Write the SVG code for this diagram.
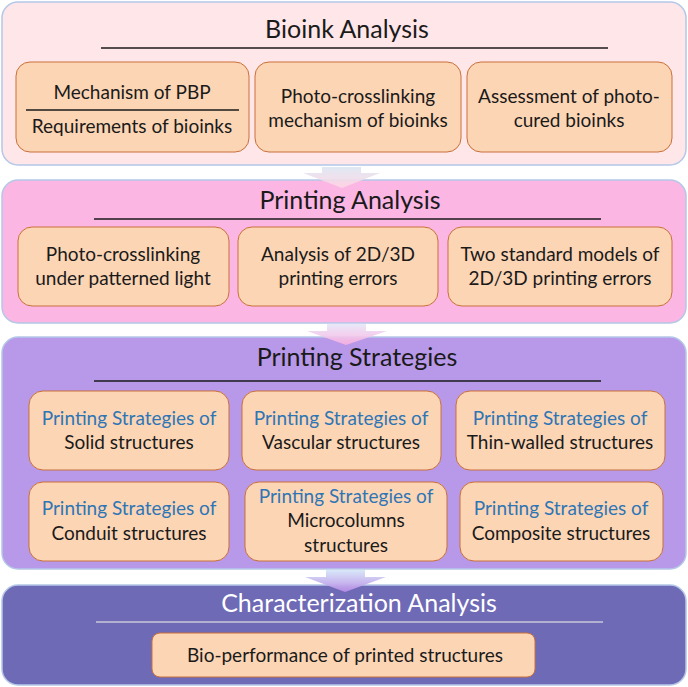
<svg xmlns="http://www.w3.org/2000/svg" width="688" height="687" viewBox="0 0 688 687">
<defs>
<style>
.panel{stroke:#B4C7E7;stroke-width:1.5}
.box{fill:#FCD5B5;stroke:#C9703A;stroke-width:1}
.t{font-family:Lato,"Liberation Sans",sans-serif;font-size:19px;fill:#1a1a1a;text-anchor:middle}
.b{fill:#2E75B6}
.h{font-family:Lato,"Liberation Sans",sans-serif;font-size:25px;fill:#1a1a1a;text-anchor:middle}
.rule{stroke:#1a1a1a;stroke-width:1.5}
</style>
<linearGradient id="g1" x1="0" y1="0" x2="0" y2="1">
<stop offset="0" stop-color="#DCE6F2"/><stop offset="1" stop-color="#FFD6E4"/>
</linearGradient>
<linearGradient id="g2" x1="0" y1="0" x2="0" y2="1">
<stop offset="0" stop-color="#E6E6F8"/><stop offset="1" stop-color="#FBB0E0"/>
</linearGradient>
<linearGradient id="g3" x1="0" y1="0" x2="0" y2="1">
<stop offset="0" stop-color="#D6E6F8"/><stop offset="1" stop-color="#B88CE6"/>
</linearGradient>
</defs>

<g id="panel-bioink">
<rect class="panel" x="2" y="2" width="684" height="163" rx="16" fill="#FFE6E8"/>
<text class="h" x="347" y="38">Bioink Analysis</text>
<line class="rule" x1="101" y1="48" x2="608" y2="48"/>
</g>
<g id="node-pbp">
<rect class="box" x="16" y="62" width="233" height="90" rx="14"/>
<text class="t" x="132" y="99">Mechanism of PBP</text>
<line class="rule" x1="26" y1="110" x2="239" y2="110" stroke-width="1.2"/>
<text class="t" x="132" y="133">Requirements of bioinks</text>
</g>
<g id="node-photo-mech">
<rect class="box" x="255" y="62" width="206" height="90" rx="14"/>
<text class="t" x="358" y="103">Photo-crosslinking</text>
<text class="t" x="358" y="127">mechanism of bioinks</text>
</g>
<g id="node-assess">
<rect class="box" x="467" y="62" width="205" height="90" rx="14"/>
<text class="t" x="569" y="103">Assessment of photo-</text>
<text class="t" x="569" y="127">cured bioinks</text>
</g>

<g id="panel-printing-analysis">
<rect class="panel" x="2" y="180" width="684" height="143" rx="16" fill="#FBB6E4" stroke="#BDD7EE"/>
<text class="h" x="350" y="209">Printing Analysis</text>
<line class="rule" x1="94" y1="219" x2="601" y2="219"/>
</g>
<g id="node-patterned">
<rect class="box" x="18" y="227" width="211" height="79" rx="14"/>
<text class="t" x="123" y="261">Photo-crosslinking</text>
<text class="t" x="123" y="285">under patterned light</text>
</g>
<g id="node-errors">
<rect class="box" x="238" y="227" width="200" height="79" rx="14"/>
<text class="t" x="338" y="261">Analysis of 2D/3D</text>
<text class="t" x="338" y="285">printing errors</text>
</g>
<g id="node-models">
<rect class="box" x="448" y="227" width="224" height="79" rx="14"/>
<text class="t" x="560" y="261">Two standard models of</text>
<text class="t" x="560" y="285">2D/3D printing errors</text>
</g>

<g id="panel-strategies">
<rect class="panel" x="2" y="337" width="684" height="232" rx="16" fill="#B898E8" stroke="#BDD7EE"/>
<text class="h" x="357" y="366">Printing Strategies</text>
<line class="rule" x1="94" y1="381" x2="601" y2="381" stroke="#2a2040"/>
</g>
<g id="node-solid">
<rect class="box" x="29" y="391" width="200" height="79" rx="14"/>
<text class="t b" x="129" y="425">Printing Strategies of</text>
<text class="t" x="129" y="449">Solid structures</text>
</g>
<g id="node-vascular">
<rect class="box" x="242" y="391" width="199" height="79" rx="14"/>
<text class="t b" x="341" y="425">Printing Strategies of</text>
<text class="t" x="341" y="449">Vascular structures</text>
</g>
<g id="node-thin">
<rect class="box" x="456" y="391" width="209" height="79" rx="14"/>
<text class="t b" x="560" y="425">Printing Strategies of</text>
<text class="t" x="560" y="449">Thin-walled structures</text>
</g>
<g id="node-conduit">
<rect class="box" x="29" y="482" width="200" height="79" rx="14"/>
<text class="t b" x="129" y="515">Printing Strategies of</text>
<text class="t" x="129" y="540">Conduit structures</text>
</g>
<g id="node-micro">
<rect class="box" x="245" y="482" width="202" height="79" rx="14"/>
<text class="t b" x="346" y="503">Printing Strategies of</text>
<text class="t" x="346" y="527">Microcolumns</text>
<text class="t" x="346" y="552">structures</text>
</g>
<g id="node-composite">
<rect class="box" x="460" y="482" width="203" height="79" rx="14"/>
<text class="t b" x="561" y="515">Printing Strategies of</text>
<text class="t" x="561" y="540">Composite structures</text>
</g>

<g id="panel-characterization">
<rect class="panel" x="2" y="585" width="684" height="100" rx="16" fill="#6F6AB6" stroke="#BDD7EE"/>
<text class="h" x="359" y="612" style="fill:#ffffff">Characterization Analysis</text>
<line x1="96" y1="622" x2="603" y2="622" stroke="#C8C8D8" stroke-width="1.5"/>
</g>
<g id="node-bio">
<rect class="box" x="152" y="633" width="383" height="44" rx="8"/>
<text class="t" x="345" y="662">Bio-performance of printed structures</text>
</g>

<g id="connectors">
<polygon points="322,167 361,167 361,173 380,173 342,188 303,173 322,173" fill="url(#g1)" opacity="0.9"/>
<polygon points="327,324 366,324 366,331 387,331 346,345 307,331 327,331" fill="url(#g2)" opacity="0.9"/>
<polygon points="326,570 365,570 365,577 386,577 345,592 305,577 326,577" fill="url(#g3)" opacity="0.95"/>
</g>
</svg>
